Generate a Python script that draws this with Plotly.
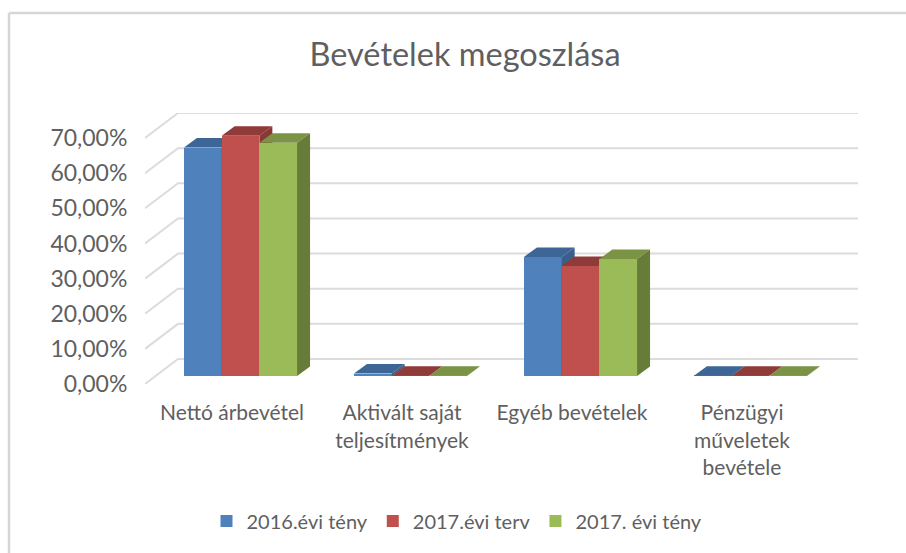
import plotly.graph_objects as go

categories = ["Nettó árbevétel", "Aktivált saját<br>teljesítmények", "Egyéb bevételek", "Pénzügyi<br>műveletek<br>bevétele"]
series_names = ["2016.évi tény", "2017.évi terv", "2017. évi tény"]
values_2016 = [65.0, 0.7, 33.9, 0.05]
values_2017_plan = [68.4, 0.1, 31.3, 0.05]
values_2017_actual = [66.4, 0.1, 33.3, 0.05]
y_ticks = [0, 10, 20, 30, 40, 50, 60, 70]
y_labels = ["0,00%", "10,00%", "20,00%", "30,00%", "40,00%", "50,00%", "60,00%", "70,00%"]

front_colors = ["#4f81bd", "#c0504d", "#9bbb59"]
top_colors = ["#3d6595", "#8f3b39", "#7a9344"]
side_colors = ["#3a5f8b", "#8a3836", "#677c39"]

W, H = 906, 553
L, R, T, B = 145, 860, 113, 384
PX_PER_CAT = 170.0
PX_PER_PCT = 3.514
x_range = [0, (R - L) / PX_PER_CAT]
y_range = [0, (B - T) / PX_PER_PCT]

wall_dx, wall_dy = 33 / PX_PER_CAT, 25 / PX_PER_PCT
bar_base = 8 / PX_PER_PCT
bar_w = 37.7 / PX_PER_CAT
bar_shift = 10.5 / PX_PER_CAT
depth_dx, depth_dy = 13 / PX_PER_CAT, 9.5 / PX_PER_PCT
centers = [i + 0.5 for i in range(len(categories))]

fig = go.Figure()

gx, gy = [], []
for v in y_ticks:
    gx += [0, wall_dx, wall_dx + 4, None]
    gy += [v, v + wall_dy, v + wall_dy, None]
fig.add_trace(go.Scatter(x=gx, y=gy, mode="lines", line=dict(color="#dcdcdc", width=2),
                         showlegend=False, hoverinfo="skip"))

all_values = [values_2016, values_2017_plan, values_2017_actual]
for k, vals in enumerate(all_values):
    ax = str(k + 2)
    offset = bar_shift + (k - 1.5) * bar_w
    fig.add_trace(go.Bar(x=centers, y=vals, base=bar_base, width=bar_w, offset=offset,
                         name=series_names[k], marker=dict(color=front_colors[k], line=dict(width=0)),
                         xaxis="x" + ax, yaxis="y" + ax))
    tx, ty, sx, sy = [], [], [], []
    for c, v in zip(centers, vals):
        x0 = c + offset
        x1 = x0 + bar_w
        top = bar_base + v
        tx += [x0, x1, x1 + depth_dx, x0 + depth_dx, x0, None]
        ty += [top, top, top + depth_dy, top + depth_dy, top, None]
        sx += [x1, x1 + depth_dx, x1 + depth_dx, x1, x1, None]
        sy += [top, top + depth_dy, bar_base + depth_dy, bar_base, top, None]
    for px, py, col in ((tx, ty, top_colors[k]), (sx, sy, side_colors[k])):
        fig.add_trace(go.Scatter(x=px, y=py, mode="lines", fill="toself", fillcolor=col,
                                 line=dict(width=0, color=col), showlegend=False, hoverinfo="skip",
                                 xaxis="x" + ax, yaxis="y" + ax))

layout = dict(
    width=W, height=H, autosize=False,
    margin=dict(l=L, r=W - R, t=T, b=H - B, pad=0, autoexpand=False),
    paper_bgcolor="white", plot_bgcolor="rgba(0,0,0,0)",
    font=dict(family="Lato", color="#5f5f5f", size=20),
    title=dict(text="Bevételek megoszlása", x=465 / W, xanchor="center", y=1 - 55 / H, yanchor="middle",
               font=dict(size=32.5, color="#5f5f5f")),
    xaxis=dict(range=x_range, tickvals=[c + 2 / PX_PER_CAT for c in centers], ticktext=categories,
               showgrid=False, zeroline=False, showline=False, ticks="outside", ticklen=10,
               tickcolor="rgba(0,0,0,0)", tickangle=0, tickfont=dict(size=21, color="#5f5f5f")),
    yaxis=dict(range=y_range, tickvals=y_ticks, ticktext=y_labels, showgrid=False, zeroline=False,
               showline=False, ticks="outside", ticklen=12, tickcolor="rgba(0,0,0,0)",
               tickfont=dict(size=23, color="#5f5f5f")),
    legend=dict(orientation="h", x=(457 - L) / (R - L), xanchor="center",
                y=(B - 521) / (B - T), yanchor="middle", itemwidth=30,
                font=dict(size=20, color="#5f5f5f"), traceorder="normal"),
    shapes=[
        dict(type="line", xref="paper", yref="paper", x0=(9 - L) / (R - L), x1=(W + 5 - L) / (R - L),
             y0=(B - 13) / (B - T), y1=(B - 13) / (B - T), line=dict(color="#d6d6d6", width=2.5), layer="below"),
        dict(type="line", xref="paper", yref="paper", x0=(9 - L) / (R - L), x1=(9 - L) / (R - L),
             y0=(B - 13) / (B - T), y1=(B - H - 5) / (B - T), line=dict(color="#d6d6d6", width=2.5), layer="below"),
    ],
    bargap=0,
)
for n in ("2", "3", "4"):
    layout["xaxis" + n] = dict(range=x_range, overlaying="x", visible=False)
    layout["yaxis" + n] = dict(range=y_range, overlaying="y", visible=False)
fig.update_layout(**layout)
fig.write_html("out.html", config={"displayModeBar": False}, post_script="document.body.style.margin='0';")
